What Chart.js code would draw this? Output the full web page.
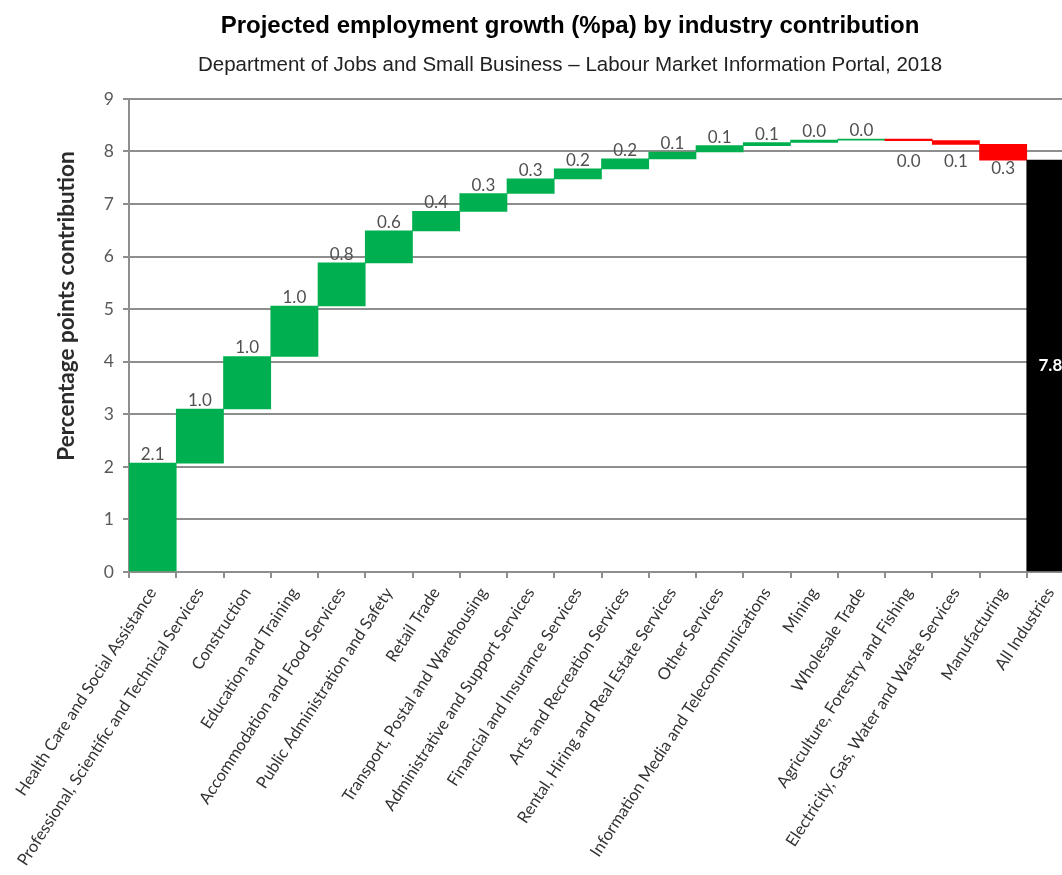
<!DOCTYPE html>
<html>
<head>
<meta charset="utf-8">
<title>Projected employment growth by industry contribution</title>
<script src="https://cdn.jsdelivr.net/npm/chart.js@4.4.1/dist/chart.umd.min.js"></script>
<style>
  html, body { margin: 0; padding: 0; background: #fff; overflow: hidden; }
  #wrap { position: absolute; left: 0; top: 0; }
</style>
</head>
<body>
<div id="wrap"><canvas id="chart" width="1074" height="875"></canvas></div>
<script>
// industries, in the order they are stacked
const industries = [
  "Health Care and Social Assistance",
  "Professional, Scientific and Technical Services",
  "Construction",
  "Education and Training",
  "Accommodation and Food Services",
  "Public Administration and Safety",
  "Retail Trade",
  "Transport, Postal and Warehousing",
  "Administrative and Support Services",
  "Financial and Insurance Services",
  "Arts and Recreation Services",
  "Rental, Hiring and Real Estate Services",
  "Other Services",
  "Information Media and Telecommunications",
  "Mining",
  "Wholesale Trade",
  "Agriculture, Forestry and Fishing",
  "Electricity, Gas, Water and Waste Services",
  "Manufacturing"
];
const totalLabel = "All Industries";

// percentage point contribution of each industry
const contributions = [2.07, 1.03, 1.00, 0.96, 0.82, 0.61, 0.37, 0.34, 0.28, 0.19,
  0.19, 0.13, 0.12, 0.06, 0.045, 0.02, -0.03, -0.07, -0.30];

const yTicks = [0, 1, 2, 3, 4, 5, 6, 7, 8, 9];

const GREEN = "#00b050";
const RED = "#ff0000";
const GRID = "#8e8e8e";

// waterfall: each bar floats from the running total
let running = 0;
const floating = contributions.map(v => {
  const start = running;
  running += v;
  return [start, running];
});
const total = running;
floating.push([0, total]);

const labels = industries.concat([totalLabel]);
const colors = contributions.map(v => v >= 0 ? GREEN : RED).concat(["#000000"]);
const valueText = contributions.map(v => Math.abs(v).toFixed(1)).concat([total.toFixed(1)]);

const barLabels = {
  id: "barLabels",
  afterDatasetsDraw(chart) {
    const c = chart.ctx;
    const meta = chart.getDatasetMeta(0);
    const y8 = chart.scales.y.getPixelForValue(8);
    c.save();
    c.textAlign = "center";
    meta.data.forEach((bar, i) => {
      const top = Math.min(bar.y, bar.base);
      const bottom = Math.max(bar.y, bar.base);
      if (i === meta.data.length - 1) {
        c.font = "bold 17px Lato";
        c.fillStyle = "#ffffff";
        c.textBaseline = "middle";
        c.fillText(valueText[i], bar.x, (top + bottom) / 2);
        return;
      }
      c.font = "17px Lato";
      c.fillStyle = "#505050";
      c.textBaseline = "alphabetic";
      if (contributions[i] >= 0) {
        c.fillText(valueText[i], bar.x, top - 3);
      } else {
        c.fillText(valueText[i], bar.x, Math.max(bottom, y8 + 2) + 14);
      }
    });
    c.restore();
  }
};

const yTitle = {
  id: "yTitle",
  afterDraw(chart) {
    const c = chart.ctx;
    c.save();
    c.translate(67, 306);
    c.rotate(-Math.PI / 2);
    c.font = "bold 22.5px Lato";
    c.fillStyle = "#2b2b2b";
    c.textAlign = "center";
    c.textBaseline = "middle";
    c.fillText("Percentage points contribution", 0, 0);
    c.restore();
  }
};

new Chart(document.getElementById("chart"), {
  type: "bar",
  data: {
    labels: labels,
    datasets: [{
      data: floating,
      backgroundColor: colors,
      borderWidth: 0,
      barPercentage: 1,
      categoryPercentage: 1
    }]
  },
  options: {
    responsive: false,
    animation: false,
    layout: { padding: { left: 66, right: 0, top: 0, bottom: 0 } },
    plugins: {
      legend: { display: false },
      tooltip: { enabled: false },
      title: {
        display: true,
        text: "Projected employment growth (%pa) by industry contribution",
        color: "#000000",
        font: { family: "Liberation Sans", size: 24, weight: "bold" },
        padding: { top: 11.5, bottom: 8 }
      },
      subtitle: {
        display: true,
        text: "Department of Jobs and Small Business \u2013 Labour Market Information Portal, 2018",
        color: "#222222",
        font: { family: "Liberation Sans", size: 20.5 },
        padding: { top: 4.5, bottom: 21.5 }
      }
    },
    scales: {
      x: {
        offset: true,
        grid: { drawOnChartArea: false, tickLength: 6, color: GRID, lineWidth: 2 },
        border: { color: GRID, width: 2 },
        ticks: {
          autoSkip: false,
          minRotation: 57,
          maxRotation: 57,
          padding: 6,
          color: "#333333",
          font: { family: "Lato", size: 16.5 }
        },
        afterFit(scale) {
          scale.height = 303;
          scale.paddingLeft = 0;
          scale.paddingRight = 0;
        }
      },
      y: {
        min: yTicks[0],
        max: yTicks[yTicks.length - 1],
        afterBuildTicks(scale) {
          scale.ticks = yTicks.map(v => ({ value: v }));
        },
        grid: { color: GRID, lineWidth: 2, tickLength: 6 },
        border: { color: GRID, width: 2 },
        ticks: {
          padding: 9,
          color: "#595959",
          font: { family: "Lato", size: 17.5 }
        },
        afterFit(scale) {
          scale.width = 63;
        }
      }
    }
  },
  plugins: [barLabels, yTitle]
});
</script>
</body>
</html>
